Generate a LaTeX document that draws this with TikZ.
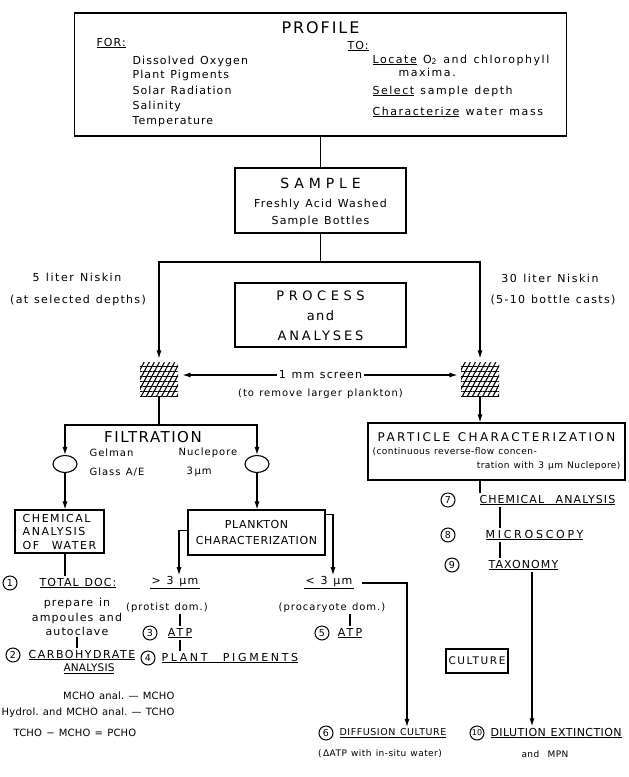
\documentclass[tikz,border=0pt]{standalone}
\usepackage{fontspec}
\setmainfont{DejaVu Sans}[LetterSpace=10,WordSpace=1.25]
\usetikzlibrary{arrows.meta,patterns.meta,shapes.geometric}

\newcommand{\spaced}[2][35]{{\addfontfeatures{LetterSpace=#1}#2}}

\tikzset{
	box/.style={draw, line width=1.1pt, inner sep=2pt},
	small/.style={font=\fontsize{10}{12}\selectfont},
	tiny/.style={font=\fontsize{9}{11}\selectfont\addfontfeatures{LetterSpace=5}},
	calc/.style={font=\fontsize{10}{12}\selectfont\addfontfeatures{LetterSpace=2}},
	num/.style={circle, draw, line width=1pt, inner sep=0pt, minimum size=14pt, font=\fontsize{9.5}{9.5}\selectfont\addfontfeatures{LetterSpace=0}},
	arr/.style={-{Latex[length=8pt,width=5pt]}},
	screenbox/.style={minimum width=38pt, minimum height=34pt, inner sep=0pt,
		pattern={Lines[angle=62,distance=4.5pt,line width=1.1pt]},
		postaction={pattern={Lines[angle=0,distance=5pt,line width=1pt]}}},
	filter/.style={ellipse, draw, line width=1.1pt, minimum width=24pt, minimum height=17pt, inner sep=0pt},
}

\begin{document}
\begin{tikzpicture}[x=1pt, y=-1pt, line width=1.1pt, every node/.style={inner sep=1pt, font=\fontsize{11}{13}\selectfont}]

		\useasboundingbox (0,0) rectangle (629,777);

		% profile box
		\node[box, minimum width=492, minimum height=123] (profile) at (320.5,74.5) {};
		\node[font=\fontsize{16}{18}\selectfont] (proftitle) at (320.5,28) {\spaced[12]{PROFILE}};
		\node[anchor=west] (for) at (95,43) {\underline{FOR:}};
		\node[anchor=west] (oxy) at (131,61) {Dissolved Oxygen};
		\node[anchor=west] (pigm) at (131,75) {Plant Pigments};
		\node[anchor=west] (solar) at (131,90) {Solar Radiation};
		\node[anchor=west] (salin) at (131,106) {Salinity};
		\node[anchor=west] (temp) at (131,122) {Temperature};
		\node[anchor=west] (to) at (346,46) {\underline{TO:}};
		\node[anchor=west] (locate) at (371,60) {\spaced[14]{\underline{Locate} O\textsubscript{2} and chlorophyll}};
		\node[anchor=west] (maxima) at (397,72) {\spaced[14]{maxima.}};
		\node[anchor=west] (select) at (371,91) {\spaced[14]{\underline{Select} sample depth}};
		\node[anchor=west] (charact) at (371,112) {\spaced[14]{\underline{Characterize} water mass}};

		% sample box
		\node[box, minimum width=171, minimum height=65] (sample) at (320.5,200.5) {};
		\node[font=\fontsize{14}{16}\selectfont] (samptitle) at (320.5,183) {\spaced{SAMPLE}};
		\node (fresh) at (320.5,204) {Freshly Acid Washed};
		\node (bottles) at (320.5,221) {Sample Bottles};
		\draw (profile.south) -- (sample.north);

		% bottles and screens
		\coordinate (split) at (320.5,262);
		\draw (sample.south) -- (split);
		\node[screenbox] (lscreen) at (159,379) {};
		\node[screenbox] (rscreen) at (480,379) {};
		\draw[arr, shorten >=3pt] (split) -| (lscreen.north);
		\draw[arr, shorten >=3pt] (split) -| (rscreen.north);
		\node (nisk5) at (77,277) {\spaced[14]{5 liter Niskin}};
		\node (nisk5b) at (78,300) {\spaced[12]{(at selected depths)}};
		\node (nisk30) at (550,278) {\spaced[14]{30 liter Niskin}};
		\node (nisk30b) at (553,300) {\spaced[12]{(5-10 bottle casts)}};

		% process box
		\node[box, minimum width=171, minimum height=64] (process) at (320.5,315) {};
		\node[font=\fontsize{13}{15}\selectfont] (proc1) at (320.5,296) {\spaced{PROCESS}};
		\node[font=\fontsize{13}{15}\selectfont] (proc2) at (320.5,316) {and};
		\node[font=\fontsize{13}{15}\selectfont] (proc3) at (320.5,336) {\spaced[22]{ANALYSES}};

		\node (screen) at (320.5,375) {1 mm screen};
		\draw[arr, shorten >=4pt] (screen.west) -- (screen.west -| lscreen.east);
		\draw[arr, shorten >=3pt] (screen.east) -- (screen.east -| rscreen.west);
		\node[small] (screenb) at (320.5,394) {(to remove larger plankton)};

		% filtration
		\coordinate (fsplit) at (159,425);
		\draw (lscreen.south) -- (fsplit);
		\node[filter] (lfilter) at (65,464) {};
		\node[filter] (rfilter) at (257,464) {};
		\draw[arr] (fsplit) -| (lfilter.north);
		\draw[arr] (fsplit) -| (rfilter.north);
		\node[font=\fontsize{15}{17}\selectfont] (filt) at (153,437) {FILTRATION};
		\node[small, anchor=west] (gelman) at (88,453) {Gelman};
		\node[small, anchor=west] (glass) at (88,472) {Glass A/E};
		\node[small, anchor=west] (nucl) at (177,453) {Nuclepore};
		\node[small, anchor=west] (nuclb) at (185,472) {3\,μm};

		\node[box, align=left, minimum width=89, minimum height=43, font=\fontsize{11}{13.5}\selectfont\addfontfeatures{LetterSpace=14}] (chem) at (59.5,531.5) {CHEMICAL\\ANALYSIS\\OF\ \ WATER};
		\draw[arr] (lfilter.south) -- (lfilter.south |- chem.north);
		\node[box, align=center, minimum width=137, minimum height=45, font=\fontsize{11}{16}\selectfont\addfontfeatures{LetterSpace=6}] (plankton) at (256.5,532.5) {PLANKTON\\CHARACTERIZATION};
		\draw[arr] (rfilter.south) -- (rfilter.south |- plankton.north);

		% size fractions
		\node (gt) at (175,583) {\underline{\,> 3 μm\,}};
		\node (lt) at (329,583) {\underline{\,< 3 μm\,}};
		\draw[arr] ([yshift=2pt]plankton.west) -| ([xshift=4pt]gt.north);
		\draw[arr] ([yshift=-5pt]plankton.north east) -| ([xshift=4pt]lt.north);

		\node[small] (protist) at (167,608) {(protist dom.)};
		\node[num] (n3) at (150,633) {3};
		\node (atp3) at (180,633) {\underline{\spaced[20]{ATP}}};
		\draw (protist.south -| atp3.north) -- (atp3.north);
		\node[num] (n4) at (148,658) {4};
		\node[anchor=west] (pig) at (160,658) {\underline{\spaced[24]{PLANT\ \ PIGMENTS}}};
		\draw (atp3.south) -- (atp3.south |- pig.north);

		\node[small] (procary) at (332,608) {\spaced[10]{(procaryote dom.)}};
		\node[num] (n5) at (322,633) {5};
		\node (atp5) at (350,633) {\underline{\spaced[20]{ATP}}};
		\draw (procary.south -| atp5.north) -- (atp5.north);

		% water chemistry
		\node[num] (n1) at (10,583) {1};
		\node (doc) at (78,583) {\underline{TOTAL DOC:}};
		\draw (chem.south -| lfilter.south) -- (doc.north -| lfilter.south);
		\node[align=center, font=\fontsize{11}{14.5}\selectfont] (prep) at (77,617) {prepare in\\ampoules and\\autoclave};
		\node[num] (n2) at (13,655) {2};
		\node (carb) at (82,655) {\underline{\spaced[14]{CARBOHYDRATE}}};
		\node[font=\fontsize{10.5}{12}\selectfont\addfontfeatures{LetterSpace=2}] (anal) at (89,669) {\underline{ANALYSIS}};
		\draw (prep.south) -- (prep.south |- carb.north);
		\node[calc, anchor=east] (mcho1) at (176,696) {MCHO anal.\ — MCHO};
		\node[calc, anchor=east] (mcho2) at (176,713) {Hydrol.\ and MCHO anal.\ — TCHO};
		\node[calc, anchor=west] (mcho3) at (12,733) {TCHO − MCHO = PCHO};

		% particle characterization
		\node[box, minimum width=257, minimum height=57] (particle) at (496.5,451.5) {};
		\node[font=\fontsize{12}{14}\selectfont] (parttitle) at (496.5,437) {\spaced[20]{PARTICLE CHARACTERIZATION}};
		\node[tiny, anchor=west] (partb) at (371,452) {(continuous reverse-flow concen-};
		\node[tiny, anchor=east] (partc) at (622,466) {tration with 3 μm Nuclepore)};
		\draw[arr] (rscreen.south) -- (rscreen.south |- particle.north);

		\node[num] (n7) at (448,500) {7};
		\node[anchor=west] (chem7) at (478,500) {\underline{CHEMICAL\ \ ANALYSIS}};
		\draw (rscreen.south |- particle.south) -- (rscreen.south |- chem7.north);
		\coordinate (spine) at (500,500);
		\node[num] (n8) at (448,535) {8};
		\node[anchor=west] (micro) at (484,535) {\underline{\spaced[25]{MICROSCOPY}}};
		\draw (chem7.south -| spine) -- (micro.north -| spine);
		\node[num] (n9) at (452,565) {9};
		\node[anchor=west] (tax) at (487,565) {\underline{TAXONOMY}};
		\draw (micro.south -| spine) -- (tax.north -| spine);

		% culture
		\node[box, minimum width=62, minimum height=24, font=\fontsize{10.5}{12}\selectfont] (culture) at (477,661) {\spaced[15]{CULTURE}};
		\node[num] (n6) at (326,733) {6};
		\node[anchor=west, font=\fontsize{9.5}{12}\selectfont\addfontfeatures{LetterSpace=6}] (diff) at (338,733) {\underline{DIFFUSION CULTURE}};
		\node[tiny] (datp) at (380,754) {(\,ΔATP with in-situ water)};
		\node[num, font=\fontsize{8}{8}\selectfont\addfontfeatures{LetterSpace=0}] (n10) at (477,733) {10};
		\node[anchor=west] (dil) at (489,733) {\underline{\spaced[4]{DILUTION EXTINCTION}}};
		\node[tiny] (mpn) at (545,754) {and\ \ MPN};

		\coordinate (difx) at (407,733);
		\coordinate (dilx) at (532,733);
		\draw[arr] ([xshift=6pt]lt.east) -| (diff.north -| difx);
		\draw[arr] (tax.south -| dilx) -- (dil.north -| dilx);

\end{tikzpicture}
\end{document}
